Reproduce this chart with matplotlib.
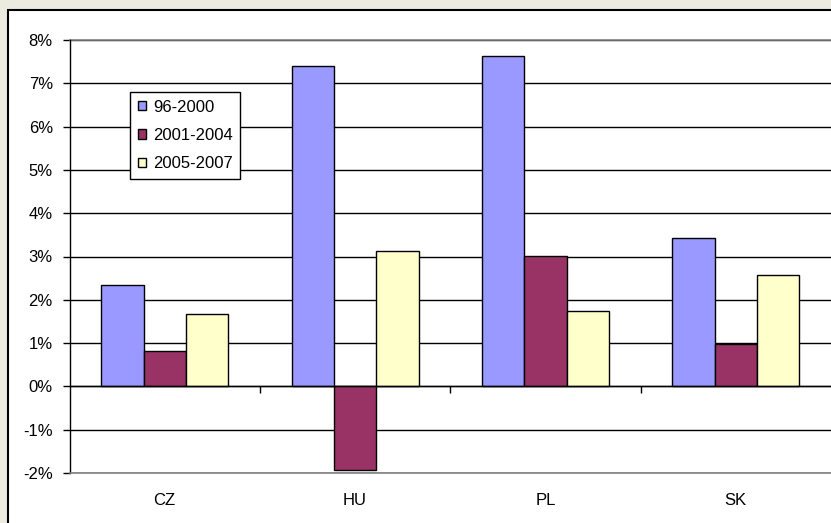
import numpy as np
import matplotlib
matplotlib.use('Agg')
import matplotlib.pyplot as plt
from matplotlib.patches import Rectangle
from matplotlib.ticker import FuncFormatter

plt.rcParams['font.family'] = ['Liberation Sans', 'DejaVu Sans']
plt.rcParams['font.size'] = 12

countries = ['CZ', 'HU', 'PL', 'SK']
periods = ['96-2000', '2001-2004', '2005-2007']
values = {
    '96-2000': [2.34, 7.40, 7.62, 3.43],
    '2001-2004': [0.82, -1.93, 3.01, 0.98],
    '2005-2007': [1.68, 3.12, 1.73, 2.58],
}
colors = ['#9999FF', '#993366', '#FFFFCC']

W, H = 831, 523
fig = plt.figure(figsize=(W / 100, H / 100), dpi=100)
fig.patch.set_facecolor('#ECEBDF')

# white chart area with a black border (cut off at right and bottom)
fig.patches.append(Rectangle((8 / W, -0.1), 1.2, 1.1 - 10 / H, transform=fig.transFigure,
                             facecolor='white', edgecolor='black', lw=1.5, zorder=-5))

ax = fig.add_axes([69.5 / W, 1 - 473 / H, (W - 69.5) / W, (473 - 40) / H])
ax.set_facecolor('none')

x = np.arange(len(countries))
w = 1 / 4.5
for i, p in enumerate(periods):
    ax.bar(x + (i - 1) * w, values[p], w, color=colors[i], edgecolor='black',
           linewidth=1, label=p, zorder=3)

ax.set_xlim(-0.5, 3.5)
ax.set_ylim(-2, 8)
ax.set_yticks(range(-2, 9))
ax.yaxis.set_major_formatter(FuncFormatter(lambda v, _: f'{v:.0f}%'))
ax.yaxis.grid(True, color='black', lw=1, zorder=0)
ax.set_axisbelow(True)
ax.tick_params(axis='y', direction='out', length=5, width=1, pad=7, labelsize=12)

ax.set_xticks(x)
ax.set_xticklabels(countries)
ax.tick_params(axis='x', length=0, pad=14.7, labelsize=12)

for s in ['top', 'bottom']:
    ax.spines[s].set_color('#808080')
    ax.spines[s].set_linewidth(1.2)
ax.spines['right'].set_visible(False)
ax.spines['left'].set_color('black')
ax.spines['left'].set_linewidth(1)
ax.spines['top'].set_zorder(1)

# category axis crossing at 0%
ax.axhline(0, color='black', lw=1, zorder=4)
sec = ax.secondary_xaxis(0.2)
sec.set_xticks([0.5, 1.5, 2.5])
sec.set_xticklabels([])
sec.tick_params(direction='out', length=5, width=1, colors='black')
sec.spines['bottom'].set_visible(False)

leg = ax.legend(loc='upper left', bbox_to_anchor=((130 - 69.5) / (W - 69.5), (473 - 92) / 433),
                borderaxespad=0, fancybox=False, framealpha=1, edgecolor='black',
                handlelength=0.5, handleheight=0.5, handletextpad=0.42, labelspacing=0.8,
                borderpad=0.45, fontsize=12)
leg.get_frame().set_linewidth(1)
leg.set_zorder(5)

fig.savefig('out.png', dpi=100, facecolor=fig.get_facecolor())
